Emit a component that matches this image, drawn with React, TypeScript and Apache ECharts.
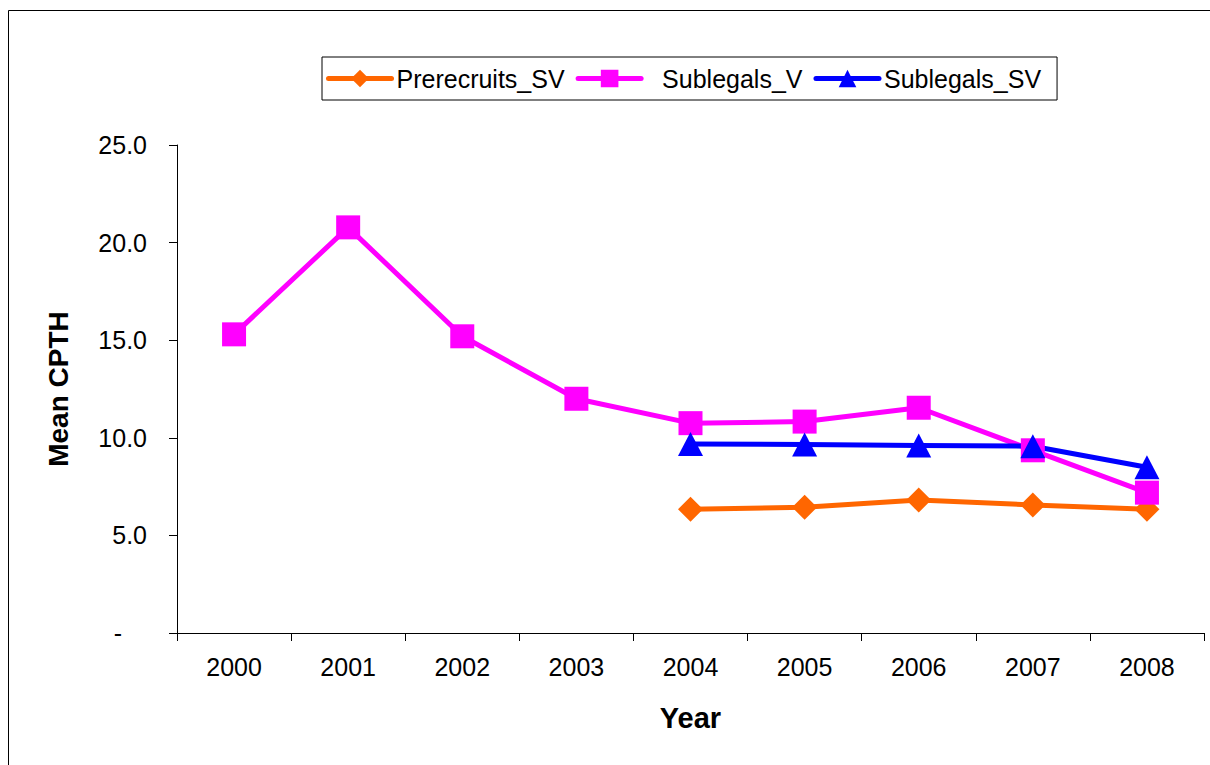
import React, { useEffect, useRef } from "react";
import * as echarts from "echarts";

// Survey years on the category axis
const years = ["2000", "2001", "2002", "2003", "2004", "2005", "2006", "2007", "2008"];

// Mean catch per trap haul by group ("-" = not surveyed)
const prerecruitsSV = ["-", "-", "-", "-", 6.34, 6.44, 6.81, 6.56, 6.34];
const sublegalsV = [15.3, 20.78, 15.2, 12.0, 10.75, 10.83, 11.54, 9.36, 7.19];
const sublegalsSV = ["-", "-", "-", "-", 9.68, 9.66, 9.6, 9.57, 8.49];

const seriesNames = ["Prerecruits_SV", "Sublegals_V", "Sublegals_SV"];
const seriesColors = ["#FF6600", "#FF00FF", "#0000FF"];

const FONT = "'Liberation Sans', Arial, sans-serif";

export default function App() {
  const ref = useRef<HTMLDivElement>(null);

  useEffect(() => {
    if (!ref.current) return;
    const chart = echarts.init(ref.current, null, { renderer: "svg" });

    const lineSeries = (name: string, data: any[], color: string, symbol: string, size: any) => ({
      name,
      type: "line",
      data,
      symbol,
      symbolSize: size,
      showAllSymbol: true,
      connectNulls: false,
      itemStyle: { color },
      lineStyle: { color, width: 5, cap: "round", join: "round" },
    });

    chart.setOption({
      animation: false,
      backgroundColor: "#ffffff",
      textStyle: { fontFamily: FONT },
      graphic: [
        {
          type: "rect",
          shape: { x: 8.5, y: 10.5, width: 1300, height: 900 },
          style: { fill: "none", stroke: "#000", lineWidth: 1 },
          silent: true,
        },
      ],
      legend: {
        left: 322,
        top: 57,
        orient: "horizontal",
        borderColor: "#000",
        borderWidth: 1,
        padding: [9, 16, 9, 4],
        itemWidth: 63,
        itemHeight: 22,
        itemGap: 11,
        lineStyle: { width: 5, cap: "round" },
        textStyle: { fontFamily: FONT, fontSize: 25, color: "#000" },
        data: [
          { name: seriesNames[0] },
          { name: seriesNames[1], textStyle: { padding: [0, 0, 0, 16] } },
          { name: seriesNames[2] },
        ],
      },
      grid: { left: 177, right: 6, top: 145, bottom: 132, containLabel: false },
      xAxis: {
        type: "category",
        data: years,
        boundaryGap: true,
        name: "Year",
        nameLocation: "middle",
        nameGap: 70,
        nameTextStyle: { fontFamily: FONT, fontSize: 29, fontWeight: "bold", color: "#000" },
        axisLine: { lineStyle: { color: "#000", width: 1 } },
        axisTick: { show: true, inside: false, length: 8, alignWithLabel: false, lineStyle: { color: "#000" } },
        axisLabel: { fontFamily: FONT, fontSize: 25, color: "#000", margin: 21 },
        splitLine: { show: false },
      },
      yAxis: {
        type: "value",
        min: 0,
        max: 25,
        interval: 5,
        name: "Mean CPTH",
        nameLocation: "middle",
        nameGap: 105,
        nameRotate: 90,
        nameTextStyle: { fontFamily: FONT, fontSize: 28, fontWeight: "bold", color: "#000" },
        axisLine: { show: true, lineStyle: { color: "#000", width: 1 } },
        axisTick: { show: true, inside: false, length: 8, lineStyle: { color: "#000" } },
        axisLabel: {
          fontFamily: FONT,
          fontSize: 25,
          color: "#000",
          margin: 30,
          formatter: (v: number) => (v === 0 ? "{d|-}" : v.toFixed(1)),
          rich: { d: { fontFamily: FONT, fontSize: 25, color: "#000", padding: [0, 25, 0, 0] } },
        },
        splitLine: { show: false },
      },
      series: [
        lineSeries(seriesNames[0], prerecruitsSV, seriesColors[0], "diamond", 25),
        lineSeries(seriesNames[1], sublegalsV, seriesColors[1], "rect", 24),
        lineSeries(seriesNames[2], sublegalsSV, seriesColors[2], "triangle", [25, 24]),
      ],
    });

    return () => chart.dispose();
  }, []);

  return (
    <div
      ref={ref}
      style={{ position: "absolute", left: 0, top: 0, width: 1210, height: 765 }}
    />
  );
}
